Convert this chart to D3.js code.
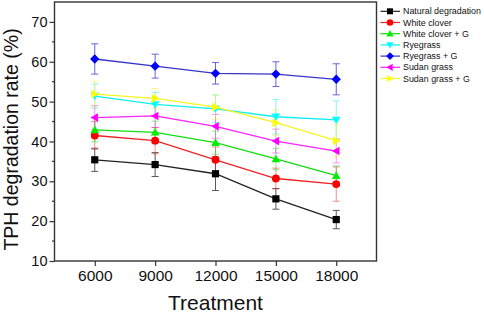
<!DOCTYPE html>
<html>
<head>
<meta charset="utf-8">
<script src="https://cdn.jsdelivr.net/npm/d3@7"></script>
<style>
  body { margin: 0; background: #fff; }
  svg { display: block; font-family: "Liberation Sans", Arial, sans-serif; }
</style>
</head>
<body>
<svg id="chart" width="484" height="313"></svg>
<script>
// data
var treatments = [6000, 9000, 12000, 15000, 18000];
var seriesNames = ['Natural degradation', 'White clover', 'White clover + G', 'Ryegrass', 'Ryegrass + G', 'Sudan grass', 'Sudan grass + G'];
var natural = [35.4, 34.2, 31.9, 25.6, 20.4];
var naturalErr = [2.9, 3.0, 4.2, 2.6, 2.3];
var whiteClover = [41.5, 40.2, 35.4, 30.7, 29.3];
var whiteCloverErr = [3.5, 3.3, 3.2, 2.6, 4.3];
var whiteCloverG = [42.9, 42.3, 39.7, 35.6, 31.4];
var whiteCloverGErr = [3.0, 2.8, 2.9, 2.7, 2.5];
var ryegrass = [51.4, 49.3, 48.2, 46.2, 45.4];
var ryegrassErr = [3.0, 3.0, 3.5, 4.3, 4.8];
var ryegrassG = [60.7, 58.9, 57.1, 56.9, 55.6];
var ryegrassGErr = [3.8, 3.0, 2.7, 3.1, 3.9];
var sudan = [46.0, 46.4, 43.8, 40.1, 37.6];
var sudanErr = [3.0, 2.9, 3.0, 3.0, 3.0];
var sudanG = [51.9, 50.8, 48.6, 44.7, 40.2];
var sudanGErr = [3.2, 2.5, 3.0, 3.2, 4.0];
var yTicks = [10, 20, 30, 40, 50, 60, 70];

var allValues = [natural, whiteClover, whiteCloverG, ryegrass, ryegrassG, sudan, sudanG];
var allErrors = [naturalErr, whiteCloverErr, whiteCloverGErr, ryegrassErr, ryegrassGErr, sudanErr, sudanGErr];
var lineColors = ['#222222', '#ee2222', '#11dd11', '#11eeee', '#3535c8', '#ff22ff', '#f5f522'];
var fillColors = ['#000000', '#ff0000', '#00ee00', '#00ffff', '#0000ff', '#ff00ff', '#ffff00'];
var shapes = ['square', 'circle', 'up', 'down', 'diamond', 'left', 'right'];

var svg = d3.select('#chart');
var margin = {l: 54.5, r: 107.5, t: 2, b: 52};
var W = 484, H = 313;

var x = d3.scaleLinear().domain([4000, 20000]).range([margin.l, W - margin.r]);
var y = d3.scaleLinear().domain([10, 75]).range([H - margin.b, margin.t]);

function markerPath(shape, s) {
    if (shape == 'square') return 'M' + (-s) + ',' + (-s) + 'h' + 2 * s + 'v' + 2 * s + 'h' + (-2 * s) + 'Z';
    if (shape == 'diamond') return 'M0,' + (-s * 1.3) + 'L' + s * 1.3 + ',0L0,' + s * 1.3 + 'L' + (-s * 1.3) + ',0Z';
    if (shape == 'up') return 'M0,' + (-s * 1.2) + 'L' + s * 1.2 + ',' + s * 0.9 + 'L' + (-s * 1.2) + ',' + s * 0.9 + 'Z';
    if (shape == 'down') return 'M0,' + s * 1.2 + 'L' + s * 1.2 + ',' + (-s * 0.9) + 'L' + (-s * 1.2) + ',' + (-s * 0.9) + 'Z';
    if (shape == 'left') return 'M' + (-s * 1.2) + ',0L' + s * 0.9 + ',' + (-s * 1.2) + 'L' + s * 0.9 + ',' + s * 1.2 + 'Z';
    if (shape == 'right') return 'M' + s * 1.2 + ',0L' + (-s * 0.9) + ',' + (-s * 1.2) + 'L' + (-s * 0.9) + ',' + s * 1.2 + 'Z';
    return d3.symbol(d3.symbolCircle, Math.PI * s * s * 1.2)();
}

// axes
var yAxis = d3.axisLeft(y).tickValues(yTicks).tickSize(5).tickPadding(2);
var gy = svg.append('g').attr('transform', 'translate(' + margin.l + ',0)').call(yAxis);
gy.selectAll('text').style('font-size', '14.5px').attr('fill', '#111');
gy.select('.domain').remove();
gy.selectAll('.tick line').attr('stroke', '#333').attr('stroke-width', 1.2);

// minor y ticks
svg.append('g').selectAll('line')
    .data([15, 25, 35, 45, 55, 65])
    .enter().append('line')
    .attr('x1', margin.l - 2.5).attr('x2', margin.l)
    .attr('y1', function(d) { return y(d); })
    .attr('y2', function(d) { return y(d); })
    .attr('stroke', '#333').attr('stroke-width', 1.2);

var xAxis = d3.axisBottom(x).tickValues(treatments).tickFormat(d3.format('d')).tickSize(5).tickPadding(4);
var gx = svg.append('g').attr('transform', 'translate(0,' + (H - margin.b) + ')').call(xAxis);
gx.selectAll('text').style('font-size', '15.5px').attr('fill', '#111');
gx.select('.domain').remove();
gx.selectAll('.tick line').attr('stroke', '#333').attr('stroke-width', 1.2);

// frame
svg.append('rect')
    .attr('x', margin.l).attr('y', margin.t)
    .attr('width', W - margin.r - margin.l)
    .attr('height', H - margin.b - margin.t)
    .attr('fill', 'none').attr('stroke', '#333').attr('stroke-width', 1.4);

// axis titles
svg.append('text')
    .attr('x', x(12000)).attr('y', 310)
    .attr('text-anchor', 'middle')
    .style('font-size', '21px').attr('fill', '#111')
    .text('Treatment');

svg.append('text')
    .attr('transform', 'translate(18,' + y(40.5) + ') rotate(-90)')
    .attr('text-anchor', 'middle')
    .style('font-size', '19.5px').attr('fill', '#111')
    .text('TPH degradation rate (%)');

// series
var line = d3.line()
    .x(function(d, i) { return x(treatments[i]); })
    .y(function(d) { return y(d); });

var plot = svg.append('g');

allValues.forEach(function(vals, k) {
    var g = plot.append('g');
    var errs = allErrors[k];

    // error bars
    vals.forEach(function(v, i) {
        var cx = x(treatments[i]);
        var eg = g.append('g').attr('stroke', lineColors[k]).attr('stroke-width', 1)
            .attr('opacity', k == 4 || k == 0 ? 0.75 : 0.5);
        eg.append('line').attr('x1', cx).attr('x2', cx)
            .attr('y1', y(v - errs[i])).attr('y2', y(v + errs[i]));
        eg.append('line').attr('x1', cx - 3.5).attr('x2', cx + 3.5)
            .attr('y1', y(v - errs[i])).attr('y2', y(v - errs[i]));
        eg.append('line').attr('x1', cx - 3.5).attr('x2', cx + 3.5)
            .attr('y1', y(v + errs[i])).attr('y2', y(v + errs[i]));
    });
});

allValues.forEach(function(vals, k) {
    var g = plot.append('g');
    g.append('path')
        .attr('d', line(vals))
        .attr('fill', 'none')
        .attr('stroke', lineColors[k])
        .attr('stroke-width', 1.3);

    g.selectAll('path.pt')
        .data(vals)
        .enter().append('path')
        .attr('class', 'pt')
        .attr('transform', function(d, i) { return 'translate(' + x(treatments[i]) + ',' + y(d) + ')'; })
        .attr('d', markerPath(shapes[k], 3.6))
        .attr('fill', fillColors[k]);
});

// legend
var legend = svg.append('g');
seriesNames.forEach(function(name, k) {
    var ly = 11.3 + k * 11.2;
    legend.append('line')
        .attr('x1', 380.5).attr('x2', 400)
        .attr('y1', ly).attr('y2', ly)
        .attr('stroke', lineColors[k]).attr('stroke-width', 1.2);
    legend.append('path')
        .attr('transform', 'translate(390,' + ly + ')')
        .attr('d', markerPath(shapes[k], 3))
        .attr('fill', fillColors[k]);
    legend.append('text')
        .attr('x', 403).attr('y', ly)
        .attr('dy', '0.35em')
        .style('font-size', '8.9px').attr('fill', '#111')
        .text(name);
});
</script>
</body>
</html>
